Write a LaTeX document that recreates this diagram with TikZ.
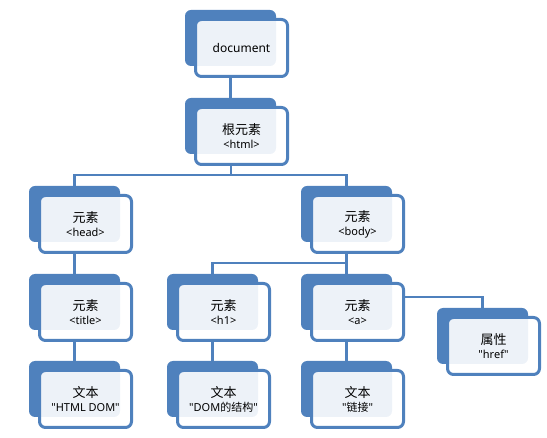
\documentclass[tikz,border=0pt]{standalone}
\usepackage{fontspec}
\setmainfont{Noto Sans}
\newfontfamily\cjk{Noto Sans CJK SC}
\definecolor{sblue}{HTML}{4F81BD}
\newcommand\q{\textquotedbl}
\newcommand\subtxt[1]{{\fontsize{11}{14.5}\selectfont #1}}
\newcommand\zh[1]{{\cjk\fontsize{13}{14.5}\selectfont #1}}
\newcommand\mynode[4]{%
  \node[backbox] (#1B) at (#2+45.5,#3+28) {};
  \node[frontbox] (#1) at (#2+56.5,#3+38) {#4};}
\begin{document}
\begin{tikzpicture}[x=1pt,y=-1pt,
  backbox/.style={rectangle, rounded corners=6pt, fill=sblue, minimum width=91pt, minimum height=56pt, inner sep=0pt},
  frontbox/.style={rectangle, rounded corners=6pt, draw=sblue, line width=3pt, fill=white, fill opacity=0.9, text opacity=1, minimum width=92pt, minimum height=57pt, inner sep=0pt, align=center, font=\fontsize{12}{14}\selectfont},
  link/.style={draw=sblue, line width=2.8pt}]
\useasboundingbox (0,0) rectangle (547,438);
% nodes
\mynode{doc}{185}{10}{\fontsize{12}{14}\selectfont document}
\mynode{root}{185}{98}{\zh{根元素}\\\subtxt{<html>}}
\mynode{head}{29}{186}{\zh{元素}\\\subtxt{<head>}}
\mynode{body}{301}{186}{\zh{元素}\\\subtxt{<body>}}
\mynode{title}{29}{274}{\zh{元素}\\\subtxt{<title>}}
\mynode{hone}{167}{274}{\zh{元素}\\\subtxt{<h1>}}
\mynode{a}{301}{274}{\zh{元素}\\\subtxt{<a>}}
\mynode{href}{437}{308}{\zh{属性}\\\subtxt{\q href\q}}
\mynode{tone}{29}{361}{\zh{文本}\\\subtxt{\q HTML DOM\q}}
\mynode{ttwo}{167}{361}{\zh{文本}\\\subtxt{\q DOM{\cjk 的结构}\q}}
\mynode{tthree}{301}{361}{\zh{文本}\\\subtxt{\q{\cjk 链接}\q}}
% connectors
\coordinate (bar1) at (231,175);
\coordinate (bar2) at (346.5,263);
\draw[link] (doc.south -| docB.north) -- (rootB.north);
\draw[link] (root.south -| bar1) -- (bar1);
\draw[link] (headB.north) |- (bar1) -| (bodyB.north);
\draw[link] (body.south -| bodyB.north) -- (aB.north);
\draw[link] (honeB.north) |- (bar2);
\draw[link] (head.south -| headB.north) -- (titleB.north);
\draw[link] (title.south -| titleB.north) -- (toneB.north);
\draw[link] (hone.south -| honeB.north) -- (ttwoB.north);
\draw[link] (a.south -| aB.north) -- (tthreeB.north);
\draw[link] ([yshift=15pt]a.east) -| (hrefB.north);
\end{tikzpicture}
\end{document}
